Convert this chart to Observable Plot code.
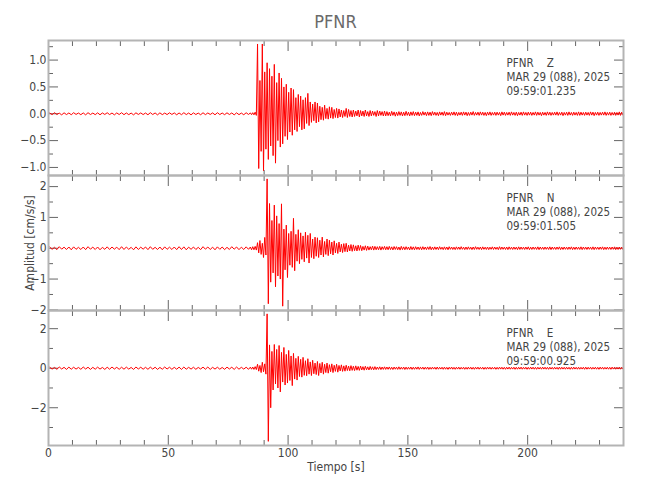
<!DOCTYPE html>
<html>
<head>
<meta charset="utf-8">
<script src="https://cdn.jsdelivr.net/npm/d3@7"></script>
<script src="https://cdn.jsdelivr.net/npm/@observablehq/plot@0.6"></script>
<style>
  html, body { margin: 0; padding: 0; background: #fff; }
  #chart { position: relative; width: 650px; height: 500px; background: #fff; overflow: hidden; }
  #chart text { white-space: pre; }
  #title { position: absolute; left: 48px; width: 575px; top: 11px; text-align: center;
           font-family: 'DejaVu Sans Condensed', 'Liberation Sans Narrow', sans-serif;
           font-size: 18px; color: #6a6a6a; }
</style>
</head>
<body>
<div id="chart"><div id="title">PFNR</div></div>
<script>
// ---------- data: bin start times (s) and peak high / low amplitude per bin (cm/s/s) ----------
const preTimes = [0,2,4,6,8,10,12,14,16,18,20,22,24,26,28,30,32,34,36,38,40,42,44,46,48,50,52,54,56,58,60,62,64,66,68,70,72,74,76,78,80,82,84];
const midTimes = [85,86,87,88,89,90,91,92,93,94,95,96,97,98,99,100,101,102,103,104,105,106,107,108,109,110,111,112,113,114,115,116,117,118,119,120,121,122,123,124,125,126,127,128,129,130,131,132,133,134,135,136,137,138,139,140];
const tailTimes = [141,142,143,144,145,146,147,148,149,150,151,152,153,154,155,156,157,158,159,160,161,162,163,164,165,166,167,168,169,170,171,172,173,174,175,176,177,178,179,180,181,182,183,184,185,186,187,188,189,190,191,192,193,194,195,196,197,198,199,200,201,202,203,204,205,206,207,208,209,210,211,212,213,214,215,216,217,218,219,220,221,222,223,224,225,226,227,228,229,230,231,232,233,234,235,236,237,238,239];
const timeEnd = 240;

// Z component
const zPreHi = [0.015,0.02,0.012,0.018,0.015,0.02,0.014,0.016,0.02,0.013,0.017,0.015,0.019,0.014,0.016,0.02,0.015,0.013,0.018,0.016,0.014,0.02,0.015,0.017,0.013,0.018,0.016,0.015,0.02,0.014,0.017,0.013,0.019,0.015,0.016,0.02,0.014,0.018,0.015,0.017,0.013,0.019,0.016];
const zPreLo = [-0.016,-0.013,-0.02,-0.015,-0.018,-0.012,-0.017,-0.02,-0.014,-0.016,-0.019,-0.013,-0.015,-0.02,-0.014,-0.017,-0.016,-0.02,-0.013,-0.015,-0.018,-0.014,-0.02,-0.016,-0.015,-0.013,-0.019,-0.017,-0.015,-0.02,-0.014,-0.018,-0.016,-0.013,-0.019,-0.015,-0.017,-0.014,-0.02,-0.016,-0.018,-0.013,-0.017];
const zMidHi = [0.02,0.03,1.30,0.62,1.30,0.78,0.95,0.84,0.70,0.92,0.58,0.76,0.66,0.50,0.55,0.40,0.48,0.45,0.30,0.36,0.33,0.26,0.30,0.38,0.22,0.18,0.22,0.20,0.14,0.12,0.16,0.10,0.13,0.12,0.08,0.10,0.09,0.07,0.06,0.10,0.08,0.06,0.07,0.05,0.07,0.06,0.05,0.07,0.04,0.06,0.05,0.04,0.06,0.05,0.04,0.05];
const zMidLo = [-0.02,-0.03,-1.02,-0.70,-1.06,-0.66,-0.85,-0.60,-0.78,-0.92,-0.50,-0.62,-0.56,-0.42,-0.48,-0.34,-0.40,-0.30,-0.33,-0.24,-0.30,-0.28,-0.18,-0.22,-0.16,-0.13,-0.17,-0.15,-0.11,-0.12,-0.09,-0.10,-0.08,-0.09,-0.07,-0.08,-0.06,-0.07,-0.05,-0.07,-0.05,-0.06,-0.05,-0.04,-0.06,-0.04,-0.05,-0.04,-0.05,-0.04,-0.03,-0.05,-0.04,-0.03,-0.04,-0.04];
const zTailHi = [0.04,0.03,0.045,0.035,0.03,0.04,0.035,0.03,0.045,0.03,0.035,0.04,0.03,0.035,0.025,0.04,0.03,0.035,0.03,0.04,0.03,0.025,0.035,0.03,0.04,0.03,0.025,0.03,0.035,0.03,0.025,0.03,0.035,0.03,0.025,0.03,0.04,0.025,0.03,0.035,0.03,0.025,0.03,0.035,0.025,0.03,0.03,0.025,0.035,0.03,0.025,0.03,0.035,0.025,0.03,0.025,0.03,0.035,0.025,0.03,0.03,0.025,0.035,0.03,0.025,0.03,0.025,0.035,0.03,0.025,0.03,0.035,0.025,0.03,0.025,0.03,0.035,0.025,0.03,0.025,0.035,0.03,0.025,0.03,0.025,0.035,0.03,0.025,0.03,0.025,0.03,0.035,0.025,0.03,0.025,0.03,0.025,0.035,0.03];
const zTailLo = [-0.035,-0.04,-0.03,-0.045,-0.035,-0.03,-0.04,-0.035,-0.03,-0.04,-0.03,-0.035,-0.03,-0.04,-0.03,-0.025,-0.035,-0.03,-0.035,-0.025,-0.03,-0.035,-0.025,-0.03,-0.035,-0.025,-0.03,-0.025,-0.03,-0.035,-0.025,-0.03,-0.025,-0.035,-0.03,-0.025,-0.03,-0.025,-0.03,-0.025,-0.03,-0.035,-0.025,-0.03,-0.025,-0.03,-0.025,-0.035,-0.025,-0.03,-0.025,-0.03,-0.025,-0.03,-0.035,-0.025,-0.03,-0.025,-0.03,-0.025,-0.03,-0.025,-0.03,-0.025,-0.035,-0.025,-0.03,-0.025,-0.03,-0.025,-0.025,-0.03,-0.025,-0.035,-0.025,-0.03,-0.025,-0.03,-0.025,-0.03,-0.03,-0.025,-0.03,-0.025,-0.03,-0.025,-0.035,-0.025,-0.03,-0.025,-0.025,-0.03,-0.025,-0.03,-0.025,-0.03,-0.025,-0.03,-0.025];

// N component
const nPreHi = [0.04,0.03,0.05,0.035,0.04,0.045,0.03,0.04,0.05,0.035,0.04,0.03,0.045,0.04,0.035,0.05,0.04,0.03,0.045,0.035,0.04,0.05,0.03,0.04,0.045,0.035,0.04,0.05,0.045,0.035,0.04,0.03,0.05,0.04,0.035,0.045,0.04,0.03,0.05,0.04,0.035,0.045,0.04];
const nPreLo = [-0.035,-0.045,-0.03,-0.04,-0.05,-0.035,-0.04,-0.045,-0.03,-0.04,-0.05,-0.035,-0.04,-0.03,-0.045,-0.04,-0.035,-0.05,-0.04,-0.03,-0.045,-0.035,-0.04,-0.05,-0.035,-0.04,-0.045,-0.04,-0.05,-0.035,-0.04,-0.045,-0.03,-0.04,-0.05,-0.035,-0.045,-0.04,-0.03,-0.045,-0.04,-0.035,-0.05];
const nMidHi = [0.05,0.06,0.18,0.25,0.16,0.35,2.25,1.45,0.90,1.40,1.05,0.80,1.44,0.62,0.75,0.48,0.55,0.97,0.45,0.60,0.50,0.40,0.52,0.42,0.48,0.30,0.36,0.34,0.26,0.36,0.22,0.30,0.26,0.20,0.24,0.16,0.20,0.13,0.15,0.16,0.10,0.12,0.11,0.08,0.10,0.09,0.06,0.08,0.07,0.05,0.07,0.06,0.05,0.06,0.05,0.06];
const nMidLo = [-0.05,-0.06,-0.15,-0.20,-0.30,-0.22,-1.80,-1.10,-0.80,-1.25,-0.90,-1.00,-1.88,-0.70,-0.95,-0.55,-0.62,-0.73,-0.42,-0.50,-0.36,-0.44,-0.32,-0.48,-0.30,-0.34,-0.26,-0.30,-0.22,-0.28,-0.20,-0.24,-0.18,-0.22,-0.15,-0.17,-0.12,-0.14,-0.11,-0.12,-0.09,-0.10,-0.08,-0.09,-0.07,-0.08,-0.06,-0.07,-0.06,-0.05,-0.06,-0.05,-0.05,-0.06,-0.04,-0.05];
const nTailHi = [0.05,0.06,0.045,0.055,0.05,0.04,0.06,0.045,0.05,0.04,0.055,0.045,0.05,0.04,0.045,0.05,0.04,0.045,0.055,0.04,0.045,0.04,0.05,0.035,0.045,0.04,0.05,0.04,0.035,0.045,0.04,0.05,0.035,0.04,0.045,0.035,0.04,0.05,0.035,0.04,0.045,0.035,0.04,0.035,0.045,0.04,0.035,0.05,0.04,0.035,0.04,0.045,0.035,0.04,0.035,0.045,0.04,0.035,0.04,0.045,0.035,0.04,0.035,0.045,0.04,0.035,0.04,0.035,0.045,0.04,0.035,0.04,0.045,0.035,0.04,0.035,0.04,0.045,0.035,0.04,0.035,0.045,0.04,0.035,0.04,0.035,0.045,0.04,0.035,0.04,0.045,0.035,0.04,0.035,0.04,0.045,0.035,0.04,0.035];
const nTailLo = [-0.05,-0.045,-0.055,-0.04,-0.05,-0.06,-0.045,-0.05,-0.04,-0.055,-0.045,-0.05,-0.04,-0.045,-0.05,-0.04,-0.045,-0.04,-0.05,-0.045,-0.04,-0.045,-0.035,-0.045,-0.04,-0.05,-0.035,-0.04,-0.045,-0.035,-0.04,-0.035,-0.045,-0.04,-0.035,-0.045,-0.04,-0.035,-0.04,-0.045,-0.035,-0.04,-0.045,-0.035,-0.04,-0.035,-0.045,-0.04,-0.035,-0.04,-0.045,-0.035,-0.04,-0.035,-0.045,-0.04,-0.035,-0.04,-0.035,-0.045,-0.04,-0.035,-0.04,-0.045,-0.035,-0.04,-0.035,-0.04,-0.045,-0.035,-0.04,-0.035,-0.045,-0.04,-0.035,-0.04,-0.035,-0.045,-0.04,-0.035,-0.04,-0.045,-0.035,-0.04,-0.035,-0.04,-0.045,-0.035,-0.04,-0.035,-0.045,-0.04,-0.035,-0.04,-0.035,-0.045,-0.04,-0.035,-0.04];

// E component
const ePreHi = [0.05,0.04,0.06,0.045,0.055,0.05,0.04,0.06,0.05,0.045,0.055,0.04,0.05,0.06,0.045,0.05,0.055,0.04,0.06,0.05,0.045,0.055,0.05,0.04,0.06,0.05,0.045,0.055,0.06,0.045,0.05,0.04,0.055,0.06,0.045,0.05,0.04,0.055,0.05,0.06,0.045,0.05,0.055];
const ePreLo = [-0.045,-0.055,-0.04,-0.06,-0.05,-0.045,-0.055,-0.04,-0.06,-0.05,-0.045,-0.06,-0.05,-0.04,-0.055,-0.05,-0.045,-0.06,-0.04,-0.05,-0.055,-0.045,-0.06,-0.05,-0.04,-0.055,-0.05,-0.06,-0.05,-0.045,-0.055,-0.04,-0.05,-0.06,-0.045,-0.05,-0.055,-0.04,-0.06,-0.05,-0.045,-0.055,-0.05];
const eMidHi = [0.06,0.08,0.20,0.14,0.30,0.22,2.75,1.18,0.85,1.20,0.95,1.15,0.80,1.05,0.70,0.90,0.62,0.75,0.50,0.60,0.45,0.55,0.38,0.48,0.32,0.40,0.26,0.34,0.24,0.30,0.20,0.26,0.18,0.22,0.15,0.20,0.14,0.17,0.12,0.15,0.11,0.13,0.10,0.12,0.09,0.11,0.08,0.10,0.07,0.09,0.07,0.08,0.06,0.07,0.06,0.07];
const eMidLo = [-0.06,-0.07,-0.15,-0.22,-0.18,-0.30,-3.70,-2.00,-1.10,-0.80,-1.00,-1.20,-0.70,-0.85,-0.75,-0.62,-0.88,-0.55,-0.60,-0.42,-0.45,-0.36,-0.38,-0.30,-0.37,-0.28,-0.32,-0.37,-0.24,-0.30,-0.22,-0.25,-0.18,-0.22,-0.16,-0.20,-0.14,-0.16,-0.15,-0.12,-0.13,-0.11,-0.12,-0.10,-0.11,-0.09,-0.10,-0.08,-0.09,-0.07,-0.08,-0.07,-0.06,-0.07,-0.06,-0.06];
const eTailHi = [0.06,0.065,0.05,0.06,0.055,0.07,0.05,0.06,0.055,0.05,0.06,0.05,0.055,0.065,0.05,0.055,0.05,0.06,0.045,0.055,0.05,0.06,0.045,0.05,0.055,0.045,0.05,0.06,0.045,0.05,0.055,0.045,0.05,0.045,0.055,0.05,0.045,0.05,0.055,0.045,0.05,0.045,0.055,0.05,0.045,0.05,0.045,0.055,0.05,0.045,0.05,0.055,0.045,0.05,0.045,0.05,0.055,0.045,0.05,0.045,0.055,0.05,0.045,0.05,0.045,0.055,0.05,0.045,0.05,0.045,0.05,0.045,0.055,0.05,0.045,0.05,0.045,0.05,0.055,0.045,0.05,0.045,0.05,0.055,0.045,0.05,0.045,0.05,0.045,0.055,0.05,0.045,0.05,0.045,0.055,0.05,0.045,0.05,0.045];
const eTailLo = [-0.055,-0.06,-0.065,-0.05,-0.06,-0.055,-0.05,-0.065,-0.055,-0.05,-0.06,-0.055,-0.05,-0.06,-0.045,-0.055,-0.05,-0.06,-0.05,-0.045,-0.055,-0.05,-0.045,-0.055,-0.05,-0.06,-0.045,-0.05,-0.055,-0.045,-0.05,-0.045,-0.055,-0.05,-0.045,-0.05,-0.055,-0.045,-0.05,-0.045,-0.055,-0.05,-0.045,-0.05,-0.045,-0.055,-0.05,-0.045,-0.05,-0.055,-0.045,-0.05,-0.045,-0.055,-0.05,-0.045,-0.05,-0.045,-0.055,-0.05,-0.045,-0.05,-0.055,-0.045,-0.05,-0.045,-0.05,-0.055,-0.045,-0.05,-0.045,-0.055,-0.05,-0.045,-0.05,-0.045,-0.055,-0.05,-0.045,-0.05,-0.05,-0.045,-0.055,-0.05,-0.045,-0.05,-0.045,-0.05,-0.055,-0.045,-0.05,-0.045,-0.05,-0.055,-0.045,-0.05,-0.045,-0.05,-0.045];

// tick values and texts
const xMajor = [0, 50, 100, 150, 200];
const xMinor = [10,20,30,40,60,70,80,90,110,120,130,140,160,170,180,190,210,220,230];
const zMajor = [-1, -0.5, 0, 0.5, 1];
const zMinor = [-0.75, -0.25, 0.25, 0.75, 1.25];
const nMajor = [-2, -1, 0, 1, 2];
const nMinor = [-1.5, -0.5, 0.5, 1.5];
const eMajor = [-2, 0, 2];
const eMinor = [-3, -1, 1];
const annotZ = "PFNR    Z\nMAR 29 (088), 2025\n09:59:01.235";
const annotN = "PFNR    N\nMAR 29 (088), 2025\n09:59:01.505";
const annotE = "PFNR    E\nMAR 29 (088), 2025\n09:59:00.925";
const xLabel = "Tiempo [s]";
const yLabel = "Amplitud [cm/s/s]";

// ---------- build traces (each bin drawn as its high then its low peak) ----------
const allTimes = [...preTimes, ...midTimes, ...tailTimes];
function trace(hi, lo) {
  if (hi.length !== allTimes.length || lo.length !== allTimes.length) console.warn("length mismatch", hi.length, lo.length, allTimes.length);
  const pts = [];
  for (let i = 0; i < allTimes.length; i++) {
    const t0 = allTimes[i], t1 = i + 1 < allTimes.length ? allTimes[i + 1] : timeEnd, w = t1 - t0;
    pts.push({t: t0 + 0.25 * w, v: hi[i]}, {t: t0 + 0.75 * w, v: lo[i]});
  }
  return pts;
}
const zData = trace([...zPreHi, ...zMidHi, ...zTailHi], [...zPreLo, ...zMidLo, ...zTailLo]);
const nData = trace([...nPreHi, ...nMidHi, ...nTailHi], [...nPreLo, ...nMidLo, ...nTailLo]);
const eData = trace([...ePreHi, ...eMidHi, ...eTailHi], [...ePreLo, ...eMidLo, ...eTailLo]);

const FONT = "'DejaVu Sans Condensed', 'Liberation Sans Narrow', sans-serif";
const frameColor = "#b4b4b4";
const tickColor = "#666";
const textColor = "#444";
const blank = () => "";

function panel({data, domain, major, minor, fmt, annot, top, bottom = false, ylab = false}) {
  const marks = [
    Plot.axisX({anchor: "bottom", ticks: xMajor, tickSize: 10, dy: -10, tickFormat: blank, label: null, stroke: tickColor}),
    Plot.axisX({anchor: "bottom", ticks: xMinor, tickSize: 5, dy: -5, tickFormat: blank, label: null, stroke: tickColor}),
    Plot.axisX({anchor: "top", ticks: xMajor, tickSize: 10, dy: 10, tickFormat: blank, label: null, stroke: tickColor}),
    Plot.axisX({anchor: "top", ticks: xMinor, tickSize: 5, dy: 5, tickFormat: blank, label: null, stroke: tickColor}),
    Plot.axisY({anchor: "left", ticks: major, tickSize: 10, dx: 10, tickFormat: blank, label: null, stroke: tickColor}),
    Plot.axisY({anchor: "left", ticks: minor, tickSize: 5, dx: 5, tickFormat: blank, label: null, stroke: tickColor}),
    Plot.axisY({anchor: "right", ticks: major, tickSize: 10, dx: -10, tickFormat: blank, label: null, stroke: tickColor}),
    Plot.axisY({anchor: "right", ticks: minor, tickSize: 5, dx: -5, tickFormat: blank, label: null, stroke: tickColor}),
    Plot.axisY({anchor: "left", ticks: major, tickSize: 0, tickPadding: 2, tickFormat: fmt, label: null, fill: textColor, fontSize: 12}),
    Plot.line(data, {x: "t", y: "v", stroke: "#ff0000", strokeWidth: 1}),
    Plot.frame({stroke: frameColor, strokeWidth: 2}),
    Plot.text([annot], {text: d => d, frameAnchor: "top-right", textAnchor: "start", lineAnchor: "top",
                        dx: -117, dy: 17, lineHeight: 1.2, fontSize: 11.5, fill: textColor})
  ];
  if (bottom) {
    marks.push(Plot.axisX({anchor: "bottom", ticks: xMajor, tickSize: 0, tickPadding: 3, tickFormat: d3.format("d"), label: null, fill: textColor, fontSize: 12}));
    marks.push(Plot.text([xLabel], {text: d => d, frameAnchor: "bottom", dy: 25, fontSize: 12, fill: textColor}));
  }
  if (ylab) {
    marks.push(Plot.text([yLabel], {text: d => d, frameAnchor: "left", textAnchor: "middle", rotate: -90, dx: -18, fontSize: 12, fill: textColor}));
  }
  const svg = Plot.plot({
    width: 650,
    height: bottom ? 180 : 135,
    marginTop: 0,
    marginBottom: bottom ? 45 : 0,
    marginLeft: 48,
    marginRight: 27,
    x: {domain: [0, 240]},
    y: {domain},
    style: {background: "transparent", overflow: "visible", fontFamily: FONT, fontSize: "12px", color: textColor},
    marks
  });
  svg.style.position = "absolute";
  svg.style.left = "0px";
  svg.style.top = top + "px";
  document.getElementById("chart").appendChild(svg);
}

panel({data: zData, domain: [-1.15, 1.365], major: zMajor, minor: zMinor, fmt: d3.format(".1f"), annot: annotZ, top: 40});
panel({data: nData, domain: [-2.02, 2.36], major: nMajor, minor: nMinor, fmt: d3.format("d"), annot: annotN, top: 175, ylab: true});
panel({data: eData, domain: [-3.91, 2.92], major: eMajor, minor: eMinor, fmt: d3.format("d"), annot: annotE, top: 310, bottom: true});
</script>
</body>
</html>
